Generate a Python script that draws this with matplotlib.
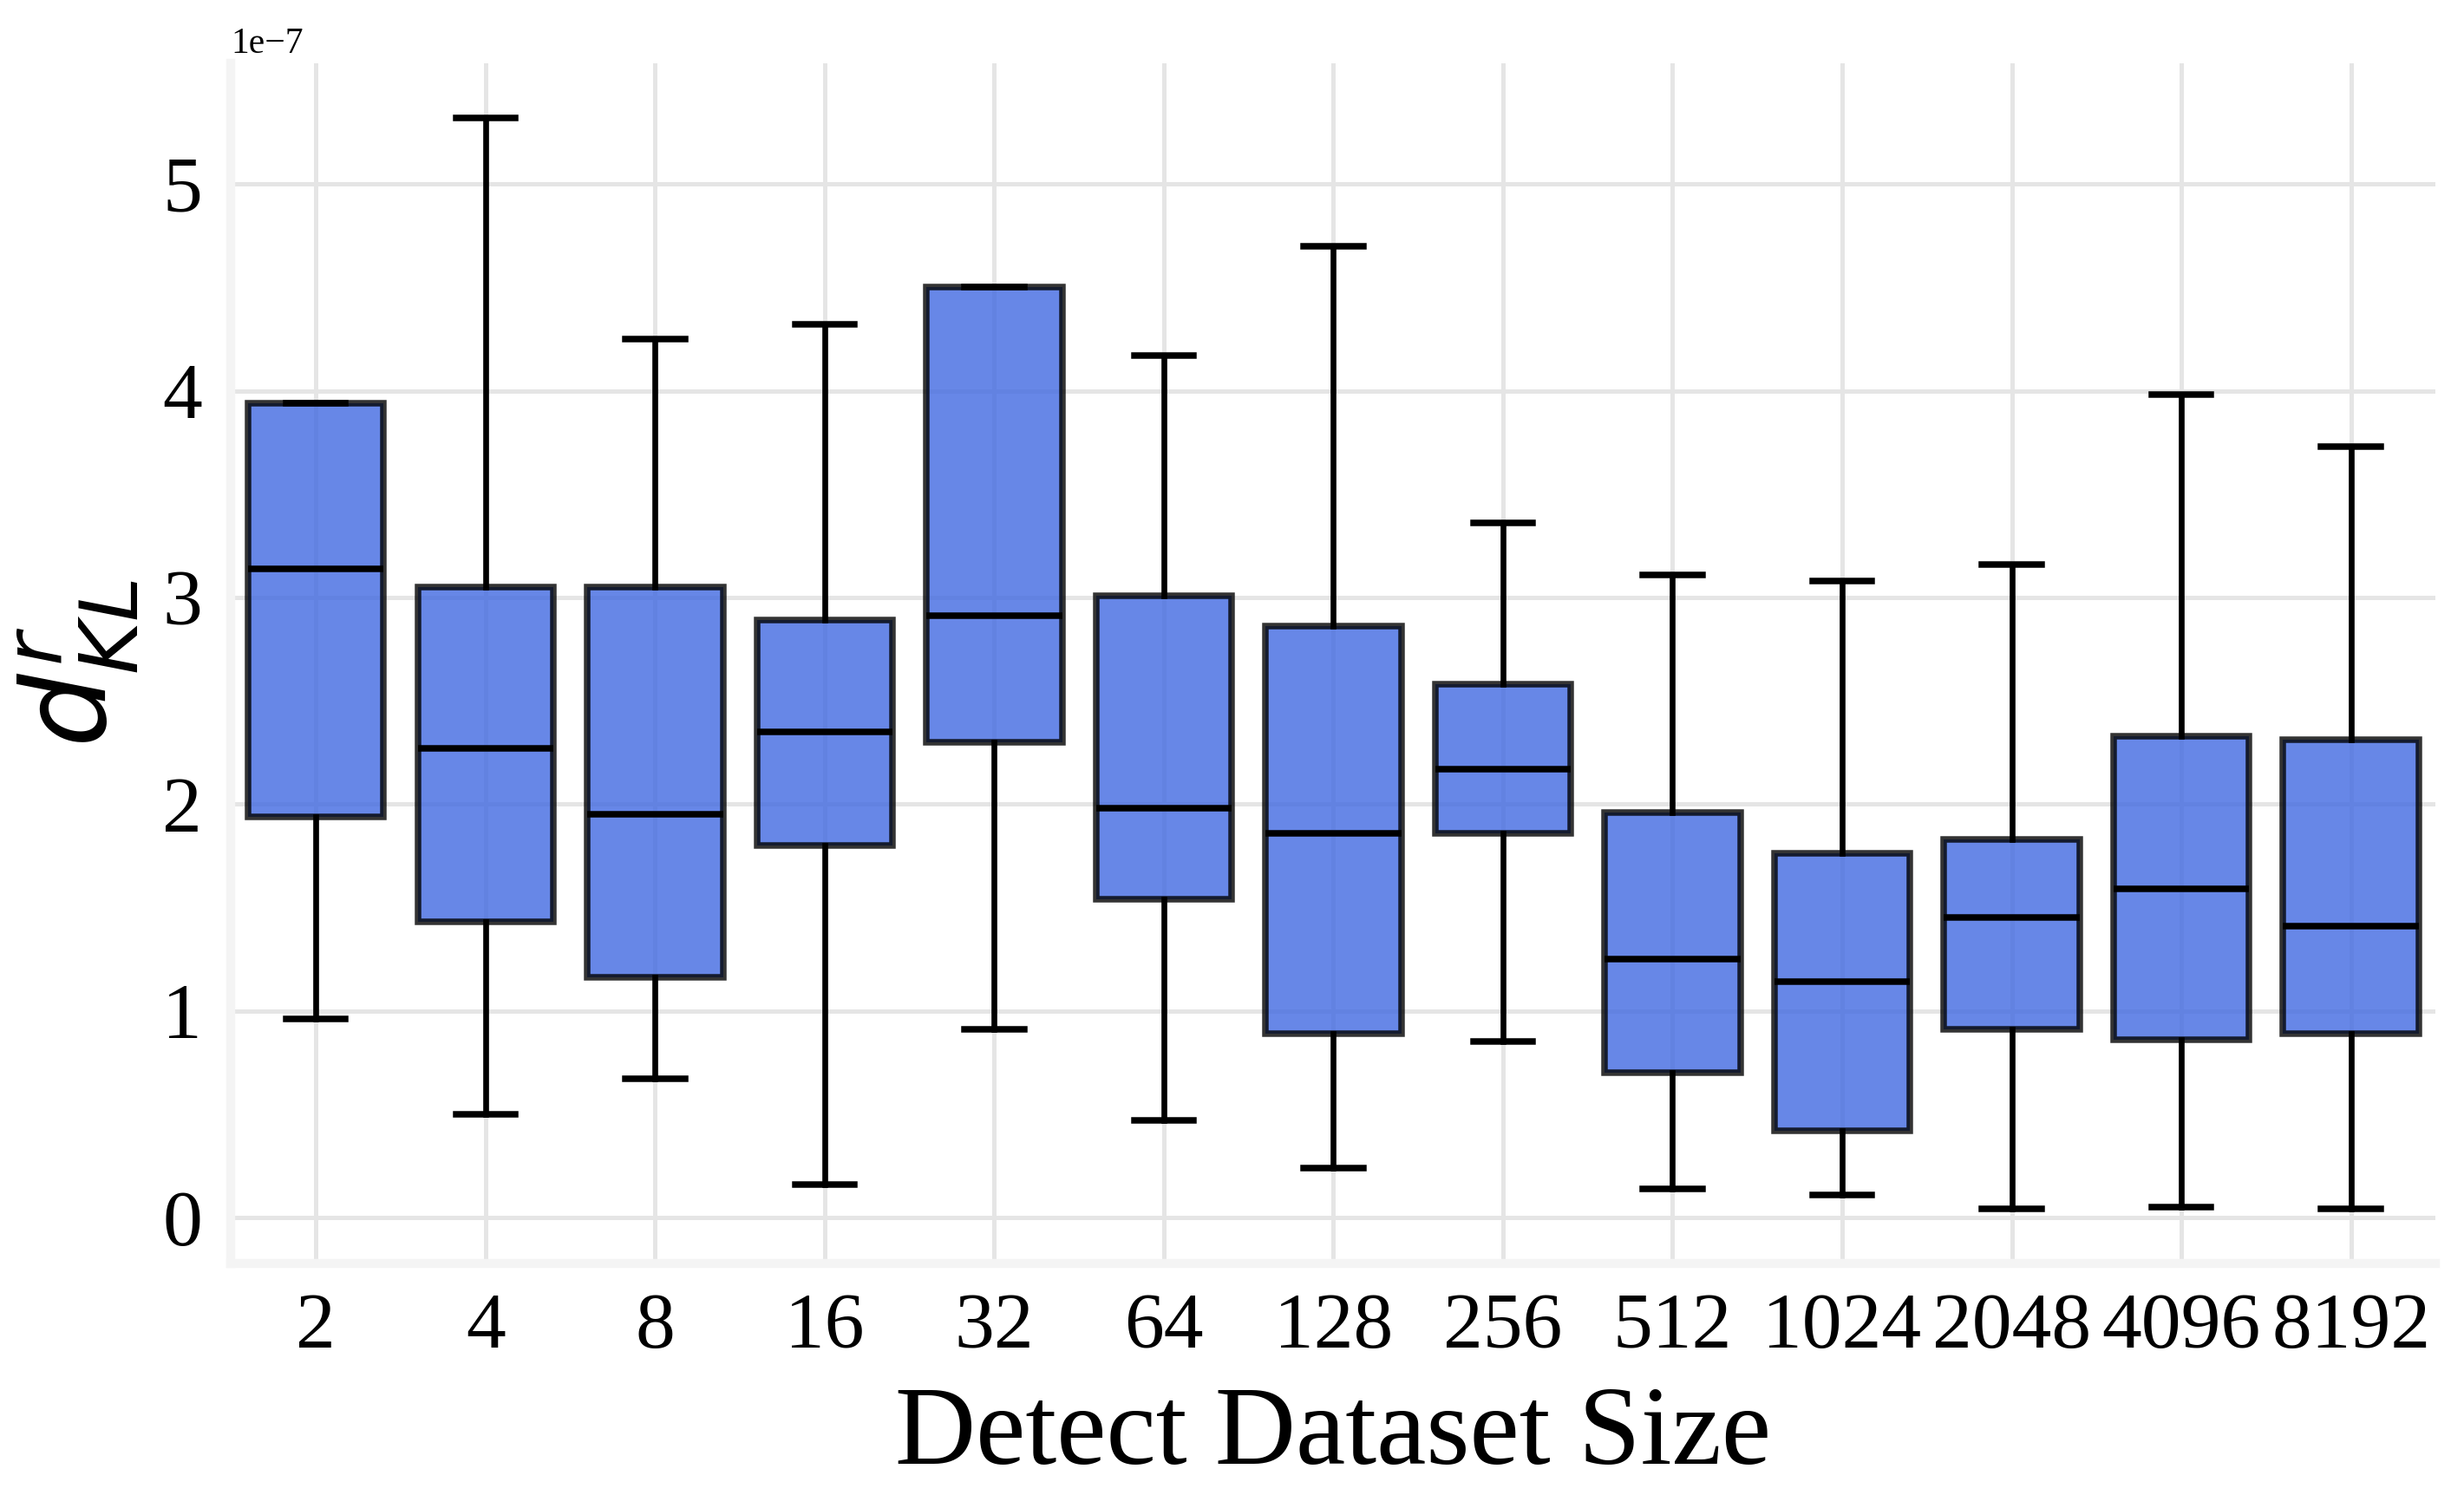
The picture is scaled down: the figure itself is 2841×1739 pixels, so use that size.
import numpy as np
import matplotlib
matplotlib.use("Agg")
import matplotlib.pyplot as plt

plt.rcParams['font.family'] = ['Liberation Serif', 'DejaVu Serif']
plt.rcParams['mathtext.fontset'] = 'dejavusans'

sizes = ["2", "4", "8", "16", "32", "64", "128", "256", "512", "1024", "2048", "4096", "8192"]

# box statistics, in units of 1e-7
whislo = [0.96, 0.50, 0.67, 0.16, 0.91, 0.47, 0.24, 0.85, 0.14, 0.11, 0.04, 0.05, 0.04]
q1 = [1.94, 1.43, 1.16, 1.80, 2.30, 1.54, 0.89, 1.86, 0.70, 0.42, 0.91, 0.86, 0.89]
med = [3.14, 2.27, 1.95, 2.35, 2.91, 1.98, 1.86, 2.17, 1.25, 1.14, 1.45, 1.59, 1.41]
q3 = [3.94, 3.05, 3.05, 2.89, 4.50, 3.01, 2.86, 2.58, 1.96, 1.76, 1.83, 2.33, 2.31]
whishi = [3.94, 5.32, 4.25, 4.32, 4.50, 4.17, 4.70, 3.36, 3.11, 3.08, 3.16, 3.98, 3.73]

scale = 1e-7
stats = []
for i, lab in enumerate(sizes):
    stats.append(dict(label=lab,
                      whislo=whislo[i] * scale, q1=q1[i] * scale, med=med[i] * scale,
                      q3=q3[i] * scale, whishi=whishi[i] * scale, fliers=[]))

fig = plt.figure(figsize=(2841 / 300, 1739 / 300), dpi=300)
ax = fig.add_axes([0.0938, 0.162, 0.8947, 0.796])

pos = np.arange(len(sizes))
ax.bxp(stats, positions=pos, widths=0.8, patch_artist=True, showfliers=False,
       capwidths=0.35,
       boxprops=dict(facecolor='royalblue', edgecolor='black', alpha=0.8, linewidth=1.8),
       whiskerprops=dict(color='black', linewidth=1.6),
       capprops=dict(color='black', linewidth=1.8),
       medianprops=dict(color='black', linewidth=1.8))

ax.set_xlim(-0.5, len(sizes) - 0.5)
ax.set_xticks(pos)
ax.set_xticklabels(sizes)
ax.margins(y=0.05)
ax.autoscale(axis='y')

ax.set_axisbelow(True)
ax.grid(True, color='#e5e5e5', linewidth=1.2)
for s in ['top', 'right']:
    ax.spines[s].set_visible(False)
for s in ['left', 'bottom']:
    ax.spines[s].set_color('#f4f4f4')
    ax.spines[s].set_linewidth(2.5)

ax.tick_params(axis='both', length=0, labelsize=22, pad=8)
ax.yaxis.get_offset_text().set_fontsize(10)

ax.set_xlabel("Detect Dataset Size", fontsize=31, labelpad=6)
ax.set_ylabel("$d^r_{KL}$", fontsize=32, labelpad=6)

fig.savefig("out.png", dpi=300)
